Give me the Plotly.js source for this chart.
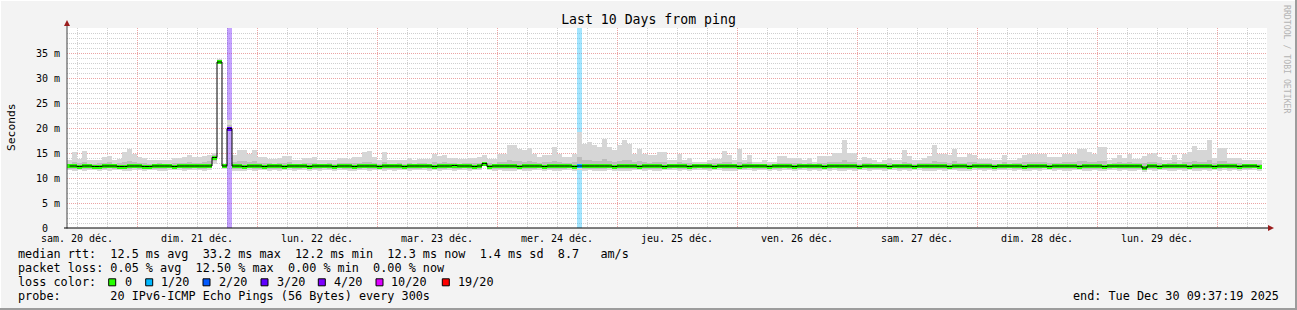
<!DOCTYPE html>
<html><head><meta charset="utf-8">
<script src="https://cdn.plot.ly/plotly-3.0.1.min.js"></script>
<style>html,body{margin:0;padding:0;background:#f3f3f3;}#chart{width:1297px;height:310px;}</style>
</head><body><div id="chart"></div>
<script>
// ---- data ----
const startTime = '2025-12-20 10:00:00';
const endTime = '2025-12-30 10:00:00';
const binHours = 1;

// smoke: max ping (ms)
const smokeHi = [
13.7,15.2,13.9,15.4,13.7,13.6,13.7,14.3,14.4,13.7,13.9,15.2,
15.9,14.9,14.3,14.1,13.7,13.6,13.7,13.7,13.7,14.1,14.1,14.3,
14.6,14.3,14.3,14.4,14.6,15.1,33.9,12.9,21.6,14.7,15.6,15.6,
14.9,15.6,14.3,14.3,13.9,13.9,14.1,14.4,14.4,13.7,13.7,14.1,
14.1,14.3,13.7,13.7,13.7,13.7,14.1,14.1,13.9,14.3,14.3,15.3,
15.5,14.3,13.7,15.2,13.7,13.7,13.7,13.7,14.1,13.7,13.9,13.9,
13.9,14.9,14.4,14.7,14.1,14.1,13.9,13.9,14.1,14.1,14.3,14.6,
13.9,13.9,14.9,14.9,16.6,16.6,15.9,15.6,16.1,14.9,14.3,14.6,
14.6,16.3,14.9,14.3,14.3,14.9,19.3,16.9,17.3,16.6,16.3,17.9,
16.3,15.6,16.6,17.6,16.9,14.9,15.9,14.9,14.6,14.6,15.3,15.3,
13.7,13.7,14.9,13.7,14.1,13.3,13.3,13.3,13.7,13.9,13.9,15.4,
14.7,13.6,15.9,13.7,14.7,13.3,13.3,13.7,13.3,13.3,14.4,14.4,
14.1,14.1,14.1,13.7,14.1,13.3,14.4,14.4,14.4,15.1,15.1,17.6,
15.1,15.1,13.7,14.3,14.1,13.7,13.3,13.7,14.1,13.6,13.6,15.6,
14.4,13.7,13.7,14.1,14.4,16.6,14.9,14.9,14.7,15.9,14.3,14.3,
14.9,14.7,13.9,13.9,13.9,13.7,13.7,14.7,13.7,13.7,14.1,14.7,
14.9,14.9,14.9,14.9,14.3,14.3,14.3,14.9,14.9,14.9,15.9,15.9,
15.3,14.9,16.3,16.3,13.7,14.1,14.7,14.1,14.9,13.9,13.9,14.4,
14.9,15.1,14.3,13.7,13.7,14.7,13.7,14.9,15.3,16.4,15.6,15.6,
17.6,14.1,16.1,16.1,14.1,14.1,14.1,13.7,13.7,13.6,13.6];

// smoke: upper inner quantile (ms)
const smokeP75 = [
12.9,13.2,13.0,13.3,12.9,12.9,13.0,13.1,13.2,12.9,13.0,13.3,
13.5,13.2,13.1,13.0,12.9,12.9,13.0,12.9,12.9,13.1,13.0,13.1,
13.2,13.1,13.1,13.2,13.4,14.6,33.5,12.7,20.6,13.2,13.4,13.4,
13.2,13.4,13.1,13.0,13.0,12.9,13.0,13.1,13.2,12.9,12.9,13.0,
13.0,13.1,12.9,12.9,13.0,12.9,13.0,13.1,13.0,13.1,13.1,13.3,
13.3,13.1,12.9,13.2,12.9,12.9,13.0,12.9,13.0,12.9,13.0,13.0,
12.9,13.2,13.1,13.2,13.0,13.0,12.9,13.0,13.0,13.1,13.1,13.3,
13.0,12.9,13.2,13.2,13.6,13.5,13.4,13.3,13.5,13.2,13.1,13.2,
13.2,13.5,13.2,13.1,13.1,13.3,14.2,13.6,13.7,13.5,13.4,13.8,
13.5,13.3,13.5,13.7,13.6,13.2,13.4,13.2,13.1,13.2,13.3,13.3,
12.9,12.9,13.2,13.0,13.0,12.9,12.9,12.9,13.0,13.0,13.0,13.3,
13.2,12.9,13.3,13.0,13.2,12.9,12.9,12.9,12.9,12.9,13.1,13.1,
13.0,13.1,13.0,12.9,13.0,12.9,13.1,13.1,13.2,13.3,13.2,13.7,
13.3,13.2,12.9,13.1,13.0,12.9,12.9,12.9,13.0,12.9,12.9,13.3,
13.1,12.9,13.0,13.0,13.1,13.5,13.2,13.2,13.1,13.4,13.1,13.1,
13.2,13.2,13.0,13.0,13.0,12.9,12.9,13.2,12.9,13.0,13.0,13.2,
13.2,13.3,13.2,13.2,13.1,13.1,13.1,13.2,13.3,13.2,13.5,13.4,
13.3,13.2,13.5,13.4,12.9,13.0,13.2,13.0,13.2,13.0,13.0,13.1,
13.2,13.3,13.1,12.9,13.0,13.2,12.9,13.2,13.3,13.5,13.3,13.3,
13.7,13.0,13.4,13.4,13.0,13.1,13.0,12.9,12.9,12.9,12.9];

// smoke: lower inner quantile (ms)
const smokeP25 = [
11.9,11.9,12.0,11.9,11.9,12.0,11.8,11.9,12.0,11.9,11.9,11.8,
11.9,12.0,11.9,11.9,12.0,11.9,11.9,11.8,12.0,11.9,12.0,11.9,
11.9,12.0,11.9,11.9,12.0,13.5,33.1,12.1,19.7,11.9,11.9,11.8,
12.0,11.9,11.9,12.0,11.9,11.9,11.8,11.9,12.0,11.9,11.9,12.0,
11.9,11.9,11.8,12.0,11.9,11.9,12.0,11.9,11.9,11.8,11.9,12.0,
11.9,11.9,12.0,11.9,11.9,11.8,11.9,12.0,11.9,11.9,11.9,12.0,
11.9,11.9,11.8,11.9,12.0,11.9,11.9,12.0,11.9,11.9,11.9,12.7,
12.0,11.9,11.9,11.9,11.8,11.9,12.0,11.9,11.9,11.9,12.0,11.9,
11.9,11.9,11.8,11.9,12.0,11.9,12.0,11.9,11.9,11.8,11.9,11.9,
12.0,11.9,11.9,11.8,11.9,11.9,12.0,11.9,11.9,11.9,11.8,11.9,
11.9,12.0,11.9,11.9,11.8,11.9,12.0,11.9,11.9,11.9,12.0,11.9,
11.9,11.8,11.9,11.9,12.0,11.9,11.9,11.9,11.8,11.9,11.9,12.0,
11.9,11.9,11.9,12.0,11.9,11.9,11.8,11.9,11.9,12.0,11.9,11.9,
11.9,11.8,11.9,12.0,11.9,11.9,11.9,11.8,11.9,12.0,11.9,11.9,
11.9,11.9,12.0,11.9,11.8,11.9,11.9,11.9,12.0,11.9,11.9,11.8,
11.9,12.0,11.9,11.9,11.9,11.8,11.9,11.9,12.0,11.9,11.9,11.9,
11.8,11.9,11.9,12.0,11.9,11.9,11.9,11.8,11.9,11.9,12.0,11.9,
11.9,11.9,11.8,11.9,11.9,12.0,11.9,11.9,11.9,11.8,11.9,11.6,
11.9,11.9,12.0,11.9,11.9,11.8,11.9,11.9,12.0,11.9,11.9,11.9,
11.8,11.9,11.9,12.0,11.9,11.9,11.8,11.9,11.9,12.0,11.9];

// smoke: min ping (ms)
const smokeLo = [
11.6,11.5,11.6,11.5,11.6,11.6,11.4,11.6,11.5,11.6,11.6,11.4,
11.5,11.6,11.6,11.5,11.6,11.6,11.5,11.4,11.6,11.6,11.6,11.5,
11.6,11.6,11.6,11.5,11.6,12.9,33.0,11.8,19.5,11.5,11.5,11.4,
11.6,11.5,11.6,11.6,11.5,11.6,11.4,11.6,11.6,11.5,11.6,11.6,
11.5,11.6,11.4,11.6,11.6,11.5,11.6,11.6,11.5,11.4,11.6,11.6,
11.5,11.6,11.6,11.5,11.6,11.4,11.6,11.6,11.5,11.6,11.6,11.6,
11.5,11.6,11.4,11.6,11.6,11.5,11.6,11.6,11.5,11.6,11.6,12.6,
11.6,11.5,11.6,11.5,11.4,11.5,11.6,11.5,11.5,11.6,11.6,11.5,
11.6,11.5,11.4,11.6,11.6,11.5,11.6,11.5,11.6,11.4,11.5,11.5,
11.6,11.5,11.5,11.4,11.5,11.6,11.6,11.5,11.6,11.5,11.4,11.6,
11.6,11.6,11.5,11.6,11.4,11.6,11.6,11.6,11.5,11.6,11.6,11.5,
11.5,11.4,11.6,11.6,11.6,11.5,11.6,11.6,11.4,11.6,11.5,11.6,
11.6,11.5,11.6,11.6,11.5,11.6,11.4,11.6,11.5,11.6,11.5,11.5,
11.6,11.4,11.6,11.6,11.5,11.6,11.6,11.4,11.6,11.6,11.5,11.6,
11.5,11.6,11.6,11.5,11.4,11.5,11.6,11.5,11.6,11.6,11.5,11.4,
11.5,11.6,11.6,11.5,11.6,11.4,11.6,11.6,11.6,11.5,11.6,11.5,
11.4,11.6,11.5,11.6,11.6,11.5,11.6,11.4,11.5,11.6,11.6,11.5,
11.5,11.6,11.4,11.5,11.6,11.6,11.5,11.6,11.5,11.4,11.6,11.2,
11.6,11.5,11.6,11.6,11.5,11.4,11.6,11.5,11.6,11.5,11.5,11.6,
11.4,11.6,11.5,11.6,11.5,11.6,11.4,11.6,11.6,11.6,11.5];

// median rtt (ms)
const medianRtt = [
12.4,12.4,12.3,12.4,12.4,12.3,12.3,12.4,12.4,12.4,12.3,12.3,
12.4,12.4,12.4,12.3,12.3,12.4,12.4,12.4,12.4,12.3,12.4,12.4,
12.4,12.4,12.4,12.4,12.4,14.1,33.2,12.4,19.9,12.4,12.4,12.3,
12.4,12.4,12.4,12.3,12.4,12.4,12.4,12.3,12.4,12.4,12.4,12.4,
12.3,12.4,12.4,12.4,12.4,12.3,12.4,12.4,12.4,12.3,12.4,12.4,
12.4,12.4,12.3,12.4,12.4,12.4,12.4,12.3,12.4,12.4,12.4,12.4,
12.4,12.3,12.4,12.4,12.4,12.5,12.4,12.4,12.4,12.3,12.4,12.9,
12.3,12.4,12.4,12.4,12.4,12.4,12.3,12.4,12.4,12.4,12.4,12.3,
12.4,12.4,12.4,12.4,12.4,12.3,12.4,12.4,12.4,12.4,12.4,12.4,
12.4,12.3,12.4,12.4,12.4,12.4,12.3,12.4,12.4,12.4,12.4,12.3,
12.4,12.4,12.4,12.4,12.3,12.4,12.4,12.4,12.4,12.3,12.4,12.4,
12.4,12.4,12.3,12.4,12.4,12.4,12.4,12.4,12.3,12.4,12.4,12.4,
12.4,12.3,12.4,12.4,12.4,12.4,12.4,12.3,12.4,12.4,12.4,12.4,
12.4,12.4,12.3,12.4,12.4,12.4,12.4,12.4,12.3,12.4,12.4,12.4,
12.4,12.3,12.4,12.4,12.4,12.4,12.4,12.4,12.3,12.4,12.4,12.4,
12.3,12.4,12.4,12.4,12.4,12.3,12.4,12.4,12.4,12.4,12.4,12.3,
12.4,12.4,12.4,12.4,12.3,12.4,12.4,12.4,12.4,12.4,12.3,12.4,
12.4,12.4,12.4,12.3,12.4,12.4,12.4,12.4,12.4,12.4,12.4,12.0,
12.4,12.4,12.3,12.4,12.4,12.4,12.4,12.4,12.3,12.4,12.4,12.4,
12.4,12.3,12.4,12.4,12.4,12.4,12.3,12.4,12.4,12.4,12.3];

// bins with packet loss and their loss-colour level
const lossBins = [32, 102];
const lossLevels = [3, 1];

const lossColors = ['#26ff00','#00b8ff','#0059ff','#5e00ff','#7e00ff','#dd00ff','#ff0000'];
const lossLabels = ['0','1/20','2/20','3/20','4/20','10/20','19/20'];

const dayLabelTimes = ['2025-12-20 12:00','2025-12-21 12:00','2025-12-22 12:00','2025-12-23 12:00','2025-12-24 12:00',
  '2025-12-25 12:00','2025-12-26 12:00','2025-12-27 12:00','2025-12-28 12:00','2025-12-29 12:00'];
const dayLabels = ['sam. 20 déc.','dim. 21 déc.','lun. 22 déc.','mar. 23 déc.','mer. 24 déc.',
  'jeu. 25 déc.','ven. 26 déc.','sam. 27 déc.','dim. 28 déc.','lun. 29 déc.'];

const yTickVals = [0,5,10,15,20,25,30,35];
const yTickText = ['0  ','5 m','10 m','15 m','20 m','25 m','30 m','35 m'];

const titleText = 'Last 10 Days from ping';
const yTitle = 'Seconds';
const statLines = [
  'median rtt:  12.5 ms avg  33.2 ms max  12.2 ms min  12.3 ms now  1.4 ms sd  8.7   am/s',
  'packet loss: 0.05 % avg  12.50 % max  0.00 % min  0.00 % now',
  'loss color:',
  'probe:       20 IPv6-ICMP Echo Pings (56 Bytes) every 300s'
];
const endText = 'end: Tue Dec 30 09:37:19 2025';
const watermark = 'RRDTOOL / TOBI OETIKER';

// ---- helpers ----
const MONO = 'DejaVu Sans Mono';
const nb = s => s.replace(/ /g, '\u00a0');
const W = 1297, H = 310, L = 67, R = 30, T = 28, B = 82;
const PW = W - L - R, PH = H - T - B;
const px = x => (x - L) / PW;
const py = y => (T + PH - y) / PH;
const t0 = Date.parse(startTime.replace(' ', 'T') + 'Z');
const fmt = ms => new Date(ms).toISOString().slice(0, 19).replace('T', ' ');
const binMs = binHours * 3600000;
const xs = medianRtt.map((_, i) => fmt(t0 + (i + 0.5) * binMs));

const rgba = (hex, a) => {
  const n = parseInt(hex.slice(1), 16);
  return `rgba(${(n >> 16) & 255},${(n >> 8) & 255},${n & 255},${a})`;
};

// median colour per bin
const medColors = medianRtt.map(() => lossColors[0]);
lossBins.forEach((b, j) => { medColors[b] = lossColors[lossLevels[j]]; });

const traces = [
  { type: 'bar', x: lossBins.map(b => xs[b]), y: lossBins.map(() => 40), base: 0,
    width: binMs, marker: { color: lossLevels.map(l => rgba(lossColors[l], 0.36)), line: { width: 0 } },
    hoverinfo: 'skip' },
  { type: 'bar', x: xs, y: smokeHi.map((h, i) => h - smokeLo[i]), base: smokeLo, width: binMs,
    marker: { color: '#d6d6d6', line: { width: 0 } }, hoverinfo: 'skip' },
  { type: 'bar', x: xs, y: smokeP75.map((h, i) => h - smokeP25[i]), base: smokeP25, width: binMs,
    marker: { color: '#bdbdbd', line: { width: 0 } }, hoverinfo: 'skip' },
  { type: 'scatter', mode: 'lines', x: xs, y: medianRtt, line: { color: '#000', width: 1, shape: 'hvh' },
    hoverinfo: 'skip' },
  { type: 'bar', x: xs, y: medianRtt.map(() => 0.8), base: medianRtt.map(m => m - 0.4), width: binMs,
    marker: { color: medColors, line: { width: 0 } }, hoverinfo: 'skip' },
  { type: 'scatter', mode: 'lines', x: [startTime, endTime], y: [0, 0], xaxis: 'x2',
    line: { color: 'rgba(0,0,0,0)', width: 0 }, hoverinfo: 'skip' }
];

const gridRed = '#eba4a4', gridGray = '#cfcfcf', dash = '1px,1px';

const shapes = [];
// frame
shapes.push({ type: 'line', xref: 'paper', yref: 'paper', x0: px(0), x1: px(W), y0: py(0.5), y1: py(0.5), line: { color: '#ffffff', width: 1 } });
shapes.push({ type: 'line', xref: 'paper', yref: 'paper', x0: px(0.5), x1: px(0.5), y0: py(0), y1: py(H), line: { color: '#ffffff', width: 1 } });
shapes.push({ type: 'line', xref: 'paper', yref: 'paper', x0: px(0), x1: px(W), y0: py(H - 1), y1: py(H - 1), line: { color: '#9c9c9c', width: 2 } });
shapes.push({ type: 'line', xref: 'paper', yref: 'paper', x0: px(W - 1), x1: px(W - 1), y0: py(0), y1: py(H), line: { color: '#9c9c9c', width: 2 } });
// axes
shapes.push({ type: 'line', xref: 'paper', yref: 'paper', x0: px(67), x1: px(67), y0: py(228.5), y1: py(24), line: { color: '#404040', width: 1 } });
shapes.push({ type: 'line', xref: 'paper', yref: 'paper', x0: px(64), x1: px(1270), y0: py(228), y1: py(228), line: { color: '#000000', width: 1 } });
shapes.push({ type: 'path', xref: 'paper', yref: 'paper', fillcolor: '#9a1c1c', line: { width: 0 },
  path: `M${px(67)},${py(20)} L${px(64)},${py(26)} L${px(70)},${py(26)} Z` });
shapes.push({ type: 'path', xref: 'paper', yref: 'paper', fillcolor: '#9a1c1c', line: { width: 0 },
  path: `M${px(1274)},${py(228)} L${px(1268)},${py(225)} L${px(1268)},${py(231)} Z` });

// loss colour legend boxes
const boxLeft = [108.7, 145.7, 203, 261, 318.3, 376, 442.3];
const boxLabelLeft = [122.5, 159.2, 216.5, 274.5, 331.5, 389.2, 455.9];
const rowY = [254.3, 268.3, 282.3, 296.3];
lossColors.forEach((c, i) => {
  shapes.push({ type: 'rect', xref: 'paper', yref: 'paper', x0: px(boxLeft[i]), x1: px(boxLeft[i] + 7),
    y0: py(rowY[2] - 3.5), y1: py(rowY[2] + 3.5), fillcolor: c, line: { color: '#000', width: 1 } });
});

const annotations = [];
const ann = (text, x, y, opts) => Object.assign({ text: nb(text), xref: 'paper', yref: 'paper', x: px(x), y: py(y),
  xanchor: 'left', yanchor: 'middle', showarrow: false, font: { family: MONO, size: 11.8, color: '#000' } }, opts || {});
statLines.forEach((s, i) => annotations.push(ann(s, 15.5, rowY[i])));
lossLabels.forEach((s, i) => annotations.push(ann(s, boxLabelLeft[i], rowY[2])));
annotations.push(ann(endText, 1281, rowY[3], { xanchor: 'right' }));
annotations.push(ann(yTitle, 11, 127, { xanchor: 'center', textangle: -90, font: { family: MONO, size: 11.3, color: '#000' } }));
annotations.push(ann(watermark, 1287, 59, { xanchor: 'center', textangle: 90, font: { family: MONO, size: 8.2, color: '#b4b4b4' } }));

const layout = {
  width: W, height: H,
  margin: { l: L, r: R, t: T, b: B, pad: 0 },
  paper_bgcolor: '#f3f3f3', plot_bgcolor: '#ffffff',
  showlegend: false, barmode: 'overlay', bargap: 0,
  title: { text: titleText, font: { family: MONO, size: 13.2, color: '#000' },
    x: 0.5, xref: 'container', xanchor: 'center', y: 1 - 19 / H, yref: 'container', yanchor: 'middle' },
  xaxis: { type: 'date', range: [startTime, endTime], showticklabels: false, ticks: '',
    tickmode: 'linear', tick0: '2025-12-21 00:00:00', dtick: 86400000,
    showgrid: true, gridcolor: gridRed, griddash: dash, gridwidth: 1,
    minor: { tickmode: 'linear', tick0: '2025-12-20 00:00:00', dtick: 21600000, showgrid: true,
      gridcolor: gridGray, griddash: dash, gridwidth: 1, ticks: '' },
    zeroline: false, showline: false, fixedrange: true },
  xaxis2: { type: 'date', overlaying: 'x', anchor: 'y', side: 'bottom', range: [startTime, endTime],
    tickmode: 'array', tickvals: dayLabelTimes, ticktext: dayLabels.map(nb), ticks: '',
    ticklabelstandoff: 3,
    showgrid: false, zeroline: false, showline: false,
    tickfont: { family: MONO, size: 10, color: '#000' }, fixedrange: true },
  yaxis: { range: [0, 40], tickmode: 'array', tickvals: yTickVals, ticktext: yTickText.map(nb),
    showgrid: true, gridcolor: gridRed, griddash: dash, gridwidth: 1,
    minor: { tickmode: 'linear', tick0: 0, dtick: 1, showgrid: true, gridcolor: gridGray, griddash: dash, gridwidth: 1, ticks: '' },
    ticks: '', ticklabelstandoff: 6, zeroline: false, showline: false,
    tickfont: { family: MONO, size: 10, color: '#000' }, fixedrange: true },
  shapes: shapes, annotations: annotations
};

Plotly.newPlot('chart', traces, layout, { displayModeBar: false, staticPlot: true });
</script>
</body></html>
